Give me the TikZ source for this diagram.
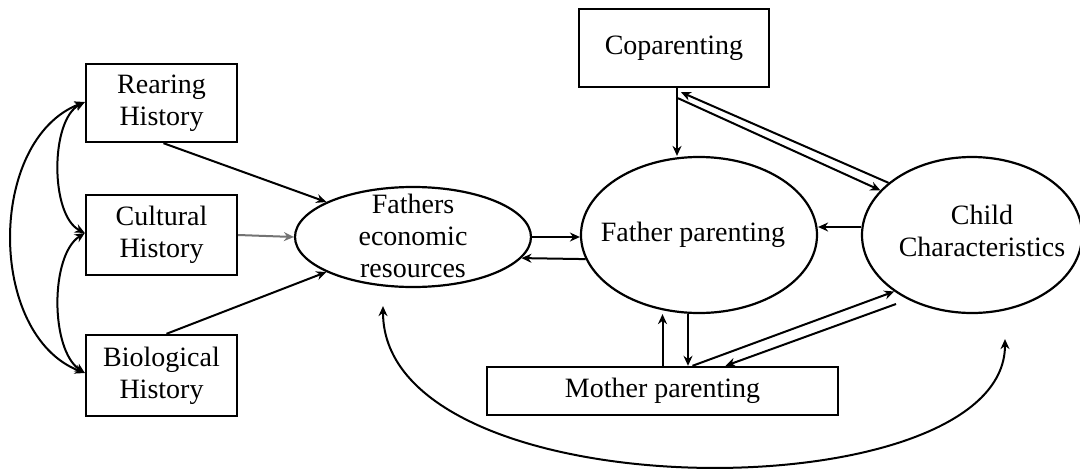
\documentclass[tikz,border=0pt]{standalone}
\usepackage{fontspec}
\setmainfont{Liberation Serif}
\usetikzlibrary{shapes.geometric,arrows.meta,calc}
\begin{document}
\begin{tikzpicture}[x=1pt,y=-1pt,
  box/.style={draw, line width=2.4pt, inner sep=0pt, align=center, font=\fontsize{28}{32}\selectfont},
  ell/.style={draw, ellipse, line width=2.2pt, inner sep=0pt},
  lbl/.style={align=center, inner sep=0pt, font=\fontsize{28}{32}\selectfont},
  tip/.tip={Stealth[length=10pt,width=9pt]},
  arr/.style={line width=2pt, -tip},
  darr/.style={line width=2pt, tip-tip},
]
\useasboundingbox (0,0) rectangle (1080,469);

% boxes
\node[box, minimum width=151pt, minimum height=78pt] (rear) at (161.5,103) {Rearing\\History};
\node[box, minimum width=151pt, minimum height=80pt] (cult) at (161.5,235) {Cultural\\History};
\node[box, minimum width=151pt, minimum height=81pt] (bio) at (161.5,375.5) {Biological\\History};
\node[box, minimum width=190pt, minimum height=78pt] (cop) at (674,48) {Coparenting};
\node[box, minimum width=351pt, minimum height=48pt] (mom) at (662.5,391) {Mother parenting};

% ellipses
\node[ell, minimum width=236pt, minimum height=100pt] (fer) at (413,237) {};
\node[lbl] (fertxt) at (413,236) {Fathers\\economic\\resources};
\node[ell, minimum width=236pt, minimum height=156pt] (fp) at (699,235) {};
\node[lbl] (fptxt) at (693,235) {Father parenting};
\node[ell, minimum width=220pt, minimum height=156pt] (child) at (972,235) {};
\node[lbl] (childtxt) at (982,231) {Child\\Characteristics};

% left correlations
\coordinate (rw) at ($(rear.west)+(0,-1)$);
\coordinate (cw) at ($(cult.west)+(0,-2)$);
\coordinate (bw) at ($(bio.west)+(0,-2.5)$);
\draw[darr] (rw) .. controls (50,120) and (50,215) .. (cw);
\draw[darr] (cw) .. controls (50,255) and (50,350) .. (bw);
\draw[darr] (rw) .. controls (-13,140) and (-13,335) .. (bw);

% histories to resources
\draw[arr] ([xshift=2pt]rear.south) -- (fer.158);
\draw[arr, draw=black!55] (cult.east) -- (fer.west);
\draw[arr] ([xshift=5pt]bio.north) -- (fer.202);

% resources <-> father parenting
\draw[arr] (fer.east) -- (fer.east -| fp.west);
\draw[arr] (fp.192) -- (fer.349);

% coparenting -> father parenting
\coordinate (cs) at ($(cop.south)+(3,0)$);
\draw[arr] (cs) -- (cs |- fp.north);

% coparenting <-> child
\draw[arr] (child.148) -- ($(cop.south)+(7,4)$);
\draw[arr] ($(cop.south)+(4,10)$) -- (child.154);

% child -> father parenting
\draw[arr] ($(child.west)+(0,-8)$) -- ($(fp.east)+(0,-8)$);

% mother <-> father parenting
\draw[arr] (mom.north) -- (mom.north |- fp.south);
\coordinate (fpd) at ($(fp.south)+(-11,0)$);
\draw[arr] (fpd) -- (fpd |- mom.north);

% mother <-> child
\draw[arr] ($(mom.north)+(30,0)$) -- (child.216);
\draw[arr] ($(child.center)+(-76,69)$) -- ($(mom.north)+(63,0)$);

% bottom curve resources <-> child
\draw[darr] ($(fer.south)+(-30,18)$) .. controls (383,514) and (1005,514) .. ($(child.south)+(33,25)$);
\end{tikzpicture}
\end{document}
